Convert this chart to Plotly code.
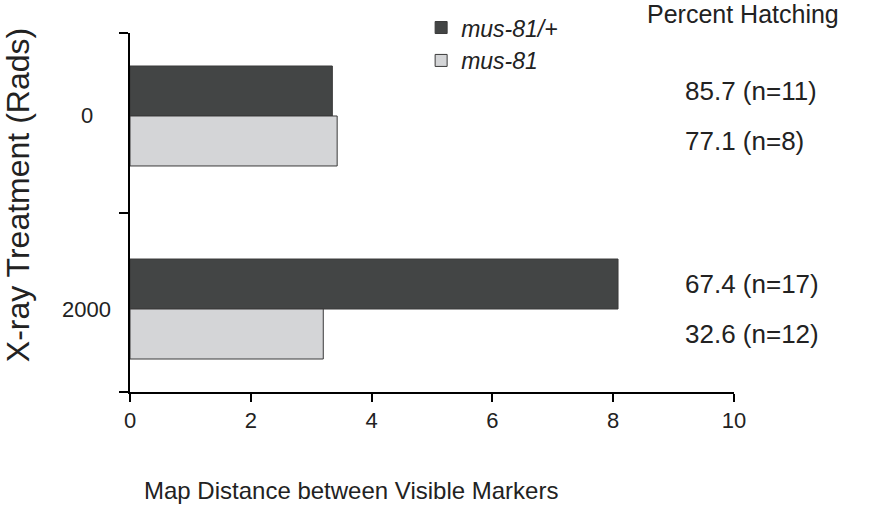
import plotly.graph_objects as go

treatments = ["0", "2000"]
genotypes = ["mus-81/+", "mus-81"]
map_distance_het = [3.35, 8.08]
map_distance_mut = [3.43, 3.20]
hatch_pct_het = [85.7, 67.4]
hatch_n_het = [11, 17]
hatch_pct_mut = [77.1, 32.6]
hatch_n_mut = [8, 12]

FONT = "Liberation Sans, Arial, sans-serif"
TXT = "#222222"
DARK = "#434545"
LIGHT = "#d4d5d7"
EDGE = "#3a3a3a"

BARGAP = 0.482
ypos = list(range(len(treatments)))

fig = go.Figure()
fig.add_trace(go.Bar(
    y=ypos, x=map_distance_het, orientation="h", name="<i>" + genotypes[0] + "</i>",
    marker=dict(color=DARK, line=dict(color=EDGE, width=1)),
))
fig.add_trace(go.Bar(
    y=ypos, x=map_distance_mut, orientation="h", name="<i>" + genotypes[1] + "</i>",
    marker=dict(color=LIGHT, line=dict(color=EDGE, width=1)),
))

YR = [1.43, -0.43]
half = (1 - BARGAP) / 4  # center offset of each bar in a group of two

annotations = []
for i in range(len(treatments)):
    annotations.append(dict(
        x=-0.0712, xref="paper", y=ypos[i], yref="y", text=treatments[i],
        showarrow=False, xanchor="center", yanchor="middle",
        font=dict(size=22, color=TXT, family=FONT)))
    annotations.append(dict(
        x=0.9156, xref="paper", y=ypos[i] - half, yref="y",
        text=f"{hatch_pct_het[i]} (n={hatch_n_het[i]})", showarrow=False,
        xanchor="left", yanchor="middle", font=dict(size=26, color=TXT, family=FONT)))
    annotations.append(dict(
        x=0.9156, xref="paper", y=ypos[i] + half, yref="y",
        text=f"{hatch_pct_mut[i]} (n={hatch_n_mut[i]})", showarrow=False,
        xanchor="left", yanchor="middle", font=dict(size=26, color=TXT, family=FONT)))

annotations.append(dict(
    x=1.015, xref="paper", y=1.053, yref="paper", text="Percent Hatching",
    showarrow=False, xanchor="center", yanchor="middle",
    font=dict(size=25, color=TXT, family=FONT)))
annotations.append(dict(
    x=0.366, xref="paper", y=-0.273, yref="paper",
    text="Map Distance between Visible Markers", showarrow=False,
    xanchor="center", yanchor="middle", font=dict(size=24, color=TXT, family=FONT)))
annotations.append(dict(
    x=-0.185, xref="paper", y=0.549, yref="paper",
    text="X-ray Treatment (Rads)", textangle=-90, showarrow=False,
    xanchor="center", yanchor="middle", font=dict(size=32, color=TXT, family=FONT)))

fig.update_layout(
    width=892, height=510,
    margin=dict(l=130, r=158, t=33, b=118, autoexpand=False),
    paper_bgcolor="white", plot_bgcolor="white",
    barmode="group", bargap=BARGAP, bargroupgap=0,
    font=dict(family=FONT, color=TXT),
    showlegend=True,
    legend=dict(x=0.482, y=1.075, xanchor="left", yanchor="top",
                font=dict(size=23, color=TXT, family=FONT),
                bgcolor="rgba(0,0,0,0)", tracegroupgap=0),
    xaxis=dict(range=[0, 10], tickvals=[0, 2, 4, 6, 8, 10],
               showline=True, linecolor="black", linewidth=2,
               ticks="outside", ticklen=8, tickwidth=2, tickcolor="black",
               showgrid=False, zeroline=False,
               tickfont=dict(size=22, color=TXT, family=FONT)),
    yaxis=dict(range=YR, tickvals=[YR[1], 0.5, YR[0]], ticktext=["", "", ""],
               showline=True, linecolor="black", linewidth=2,
               ticks="outside", ticklen=9, tickwidth=2, tickcolor="black",
               showgrid=False, zeroline=False),
    annotations=annotations,
)

fig.write_html(
    "out.html",
    config={"displayModeBar": False},
    post_script="document.body.style.margin='0';document.body.style.overflow='hidden';",
)
